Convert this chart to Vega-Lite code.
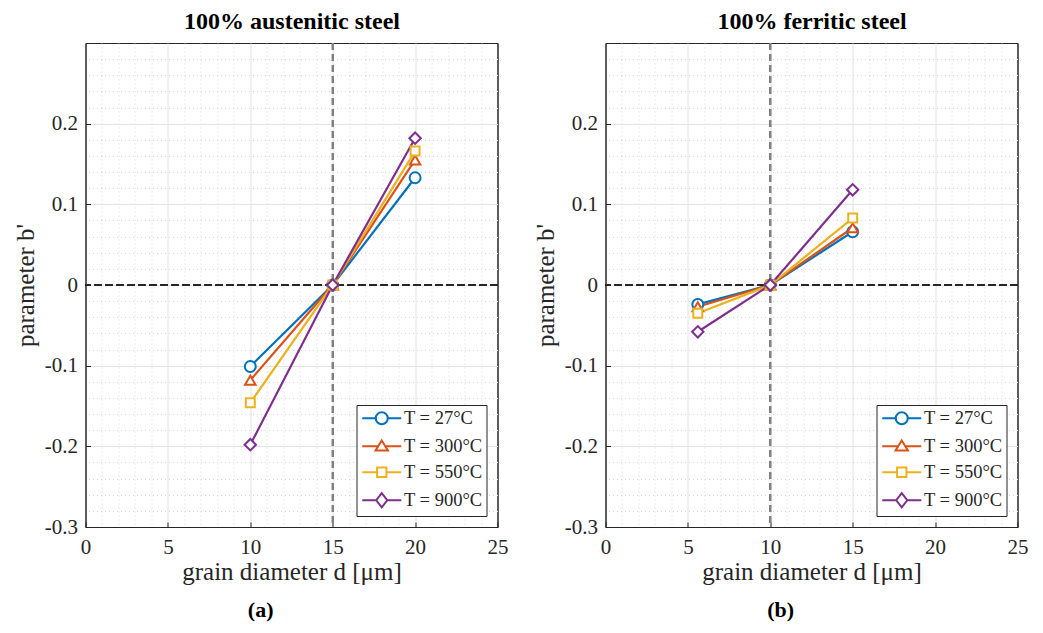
{
  "$schema": "https://vega.github.io/schema/vega-lite/v6.json",
  "padding": {"left": 12.5, "top": 8, "right": 5, "bottom": 5},
  "config": {
    "font": "Liberation Serif",
    "view": {"stroke": "#262626", "strokeWidth": 1},
    "axis": {"labelFont": "Liberation Serif", "titleFont": "Liberation Serif"},
    "legend": {"labelFont": "Liberation Serif"}
  },
  "datasets": {
    "a": [
      {"d": 10, "b": -0.101, "T": "T = 27°C"},
      {"d": 15, "b": 0, "T": "T = 27°C"},
      {"d": 20, "b": 0.133, "T": "T = 27°C"},
      {"d": 10, "b": -0.118, "T": "T = 300°C"},
      {"d": 15, "b": 0, "T": "T = 300°C"},
      {"d": 20, "b": 0.155, "T": "T = 300°C"},
      {"d": 10, "b": -0.146, "T": "T = 550°C"},
      {"d": 15, "b": 0, "T": "T = 550°C"},
      {"d": 20, "b": 0.166, "T": "T = 550°C"},
      {"d": 10, "b": -0.198, "T": "T = 900°C"},
      {"d": 15, "b": 0, "T": "T = 900°C"},
      {"d": 20, "b": 0.182, "T": "T = 900°C"}
    ],
    "b": [
      {"d": 5.6, "b": -0.024, "T": "T = 27°C"},
      {"d": 10, "b": 0, "T": "T = 27°C"},
      {"d": 15, "b": 0.066, "T": "T = 27°C"},
      {"d": 5.6, "b": -0.027, "T": "T = 300°C"},
      {"d": 10, "b": 0, "T": "T = 300°C"},
      {"d": 15, "b": 0.071, "T": "T = 300°C"},
      {"d": 5.6, "b": -0.035, "T": "T = 550°C"},
      {"d": 10, "b": 0, "T": "T = 550°C"},
      {"d": 15, "b": 0.083, "T": "T = 550°C"},
      {"d": 5.6, "b": -0.058, "T": "T = 900°C"},
      {"d": 10, "b": 0, "T": "T = 900°C"},
      {"d": 15, "b": 0.118, "T": "T = 900°C"}
    ]
  },
  "spacing": 24,
  "resolve": {
    "scale": {"stroke": "independent", "shape": "independent"},
    "legend": {"stroke": "independent", "shape": "independent"}
  },
  "hconcat": [
    {
      "width": 412,
      "height": 484,
      "title": {"text": "(a)", "orient": "bottom", "anchor": "middle", "frame": "bounds", "fontSize": 22, "fontWeight": "bold", "color": "#000000", "offset": 16, "font": "Liberation Serif"},
      "data": {"name": "a"},
      "layer": [
        {
          "mark": {"type": "point", "filled": true, "fill": "white", "size": 169, "strokeWidth": 2, "opacity": 0},
          "encoding": {
            "x": {"field": "d", "type": "quantitative", "axis": null, "scale": {"domain": [0, 25], "nice": false}},
            "y": {"field": "b", "type": "quantitative", "axis": null, "scale": {"domain": [-0.3, 0.3], "nice": false}},
            "stroke": {"field": "T", "type": "nominal",
              "scale": {"domain": ["T = 27°C", "T = 300°C", "T = 550°C", "T = 900°C"], "range": ["#0072BD", "#D95319", "#EDB120", "#7E2F8E"]},
              "legend": {"title": null, "orient": "bottom-right", "offset": 11, "padding": 4, "strokeColor": "#262626", "fillColor": "white", "labelFont": "Liberation Serif", "labelFontSize": 18.5, "labelColor": "#262626", "symbolStrokeWidth": 2, "symbolFillColor": "white", "symbolOpacity": 1, "symbolSize": 169, "symbolOffset": 12, "labelOffset": 13, "rowPadding": 7}},
            "shape": {"field": "T", "type": "nominal",
              "scale": {"domain": ["T = 27°C", "T = 300°C", "T = 550°C", "T = 900°C"],
                "range": [
                  "M-3,0L-0.92,0M0.92,0L3,0M-0.92,0A0.92,0.92,0,1,0,0.92,0A0.92,0.92,0,1,0,-0.92,0Z",
                  "M-3,0L-0.55,0M0.55,0L3,0M0,-0.9L0.95,0.65L-0.95,0.65Z",
                  "M-3,0L-0.72,0M0.72,0L3,0M-0.72,-0.72L0.72,-0.72L0.72,0.72L-0.72,0.72Z",
                  "M-3,0L-0.85,0M0.85,0L3,0M0,-1.1L0.85,0L0,1.1L-0.85,0Z"
                ]},
              "legend": {"title": null, "orient": "bottom-right", "offset": 11, "padding": 4, "strokeColor": "#262626", "fillColor": "white", "labelFont": "Liberation Serif", "labelFontSize": 18.5, "labelColor": "#262626", "symbolStrokeWidth": 2, "symbolFillColor": "white", "symbolOpacity": 1, "symbolSize": 169, "symbolOffset": 12, "labelOffset": 13, "rowPadding": 7}}
          }
        },
        {
          "mark": {"type": "rule", "color": "#808080", "strokeDash": [7, 4], "strokeWidth": 1.5},
          "encoding": {
            "x": {"datum": 15, "type": "quantitative",
              "axis": {"orient": "top", "values": [1,2,3,4,6,7,8,9,11,12,13,14,16,17,18,19,21,22,23,24], "grid": true, "gridColor": "#d6d6d6", "gridDash": [1, 3], "gridWidth": 1, "labels": false, "ticks": false, "domain": false, "title": "100% austenitic steel", "titleFontSize": 24, "titleFontWeight": "bold", "titleColor": "#000000", "titlePadding": 10}}
          }
        },
        {
          "mark": {"type": "rule", "color": "#262626", "strokeDash": [7, 4], "strokeWidth": 1.2},
          "encoding": {
            "y": {"datum": 0, "type": "quantitative",
              "axis": {"orient": "right", "values": [-0.28,-0.26,-0.24,-0.22,-0.18,-0.16,-0.14,-0.12,-0.08,-0.06,-0.04,-0.02,0.02,0.04,0.06,0.08,0.12,0.14,0.16,0.18,0.22,0.24,0.26,0.28], "grid": true, "gridColor": "#d6d6d6", "gridDash": [1, 3], "gridWidth": 1, "labels": false, "ticks": false, "domain": false, "title": null}}
          }
        },
        {
          "mark": {"type": "line", "strokeWidth": 2.2},
          "encoding": {
            "x": {"field": "d", "type": "quantitative",
              "axis": {"orient": "bottom", "values": [0, 5, 10, 15, 20, 25], "grid": true, "gridColor": {"condition": {"test": "datum.value == 0 || datum.value == 25", "value": "#262626"}, "value": "#e2e2e2"}, "ticks": true, "tickSize": -5, "tickColor": "#262626", "domain": false, "labelFlush": false, "labelFontSize": 21, "labelColor": "#262626", "labelPadding": 14, "title": "grain diameter d [μm]", "titleFontSize": 25, "titleFontWeight": "normal", "titleColor": "#262626", "titlePadding": 2}},
            "y": {"field": "b", "type": "quantitative",
              "axis": {"orient": "left", "values": [-0.3, -0.2, -0.1, 0, 0.1, 0.2], "labelExpr": "'' + datum.value", "grid": true, "gridColor": {"condition": {"test": "datum.value == -0.3", "value": "#262626"}, "value": "#e2e2e2"}, "ticks": true, "tickSize": -5, "tickColor": "#262626", "domain": false, "labelFontSize": 21, "labelColor": "#262626", "labelPadding": 13, "title": "parameter b'", "titleFontSize": 25, "titleFontWeight": "normal", "titleColor": "#262626", "titlePadding": 6}},
            "stroke": {"field": "T", "type": "nominal"}
          }
        },
        {
          "transform": [{"filter": {"field": "T", "equal": "T = 27°C"}}],
          "mark": {"type": "point", "shape": "circle", "filled": true, "fill": "white", "opacity": 1, "size": 120, "strokeWidth": 2},
          "encoding": {
            "x": {"field": "d", "type": "quantitative", "axis": null},
            "y": {"field": "b", "type": "quantitative", "axis": null},
            "stroke": {"field": "T", "type": "nominal"}
          }
        },
        {
          "transform": [{"filter": {"field": "T", "equal": "T = 300°C"}}],
          "mark": {"type": "point", "shape": "triangle-up", "filled": true, "fill": "white", "opacity": 1, "size": 110, "strokeWidth": 2},
          "encoding": {
            "x": {"field": "d", "type": "quantitative", "axis": null},
            "y": {"field": "b", "type": "quantitative", "axis": null},
            "stroke": {"field": "T", "type": "nominal"}
          }
        },
        {
          "transform": [{"filter": {"field": "T", "equal": "T = 550°C"}}],
          "mark": {"type": "point", "shape": "square", "filled": true, "fill": "white", "opacity": 1, "size": 80, "strokeWidth": 2},
          "encoding": {
            "x": {"field": "d", "type": "quantitative", "axis": null},
            "y": {"field": "b", "type": "quantitative", "axis": null},
            "stroke": {"field": "T", "type": "nominal"}
          }
        },
        {
          "transform": [{"filter": {"field": "T", "equal": "T = 900°C"}}],
          "mark": {"type": "point", "shape": "diamond", "filled": true, "fill": "white", "opacity": 1, "size": 130, "strokeWidth": 2},
          "encoding": {
            "x": {"field": "d", "type": "quantitative", "axis": null},
            "y": {"field": "b", "type": "quantitative", "axis": null},
            "stroke": {"field": "T", "type": "nominal"}
          }
        }
      ]
    },
    {
      "width": 412,
      "height": 484,
      "title": {"text": "(b)", "orient": "bottom", "anchor": "middle", "frame": "bounds", "fontSize": 22, "fontWeight": "bold", "color": "#000000", "offset": 16, "font": "Liberation Serif"},
      "data": {"name": "b"},
      "layer": [
        {
          "mark": {"type": "point", "filled": true, "fill": "white", "size": 169, "strokeWidth": 2, "opacity": 0},
          "encoding": {
            "x": {"field": "d", "type": "quantitative", "axis": null, "scale": {"domain": [0, 25], "nice": false}},
            "y": {"field": "b", "type": "quantitative", "axis": null, "scale": {"domain": [-0.3, 0.3], "nice": false}},
            "stroke": {"field": "T", "type": "nominal",
              "scale": {"domain": ["T = 27°C", "T = 300°C", "T = 550°C", "T = 900°C"], "range": ["#0072BD", "#D95319", "#EDB120", "#7E2F8E"]},
              "legend": {"title": null, "orient": "bottom-right", "offset": 11, "padding": 4, "strokeColor": "#262626", "fillColor": "white", "labelFont": "Liberation Serif", "labelFontSize": 18.5, "labelColor": "#262626", "symbolStrokeWidth": 2, "symbolFillColor": "white", "symbolOpacity": 1, "symbolSize": 169, "symbolOffset": 12, "labelOffset": 13, "rowPadding": 7}},
            "shape": {"field": "T", "type": "nominal",
              "scale": {"domain": ["T = 27°C", "T = 300°C", "T = 550°C", "T = 900°C"],
                "range": [
                  "M-3,0L-0.92,0M0.92,0L3,0M-0.92,0A0.92,0.92,0,1,0,0.92,0A0.92,0.92,0,1,0,-0.92,0Z",
                  "M-3,0L-0.55,0M0.55,0L3,0M0,-0.9L0.95,0.65L-0.95,0.65Z",
                  "M-3,0L-0.72,0M0.72,0L3,0M-0.72,-0.72L0.72,-0.72L0.72,0.72L-0.72,0.72Z",
                  "M-3,0L-0.85,0M0.85,0L3,0M0,-1.1L0.85,0L0,1.1L-0.85,0Z"
                ]},
              "legend": {"title": null, "orient": "bottom-right", "offset": 11, "padding": 4, "strokeColor": "#262626", "fillColor": "white", "labelFont": "Liberation Serif", "labelFontSize": 18.5, "labelColor": "#262626", "symbolStrokeWidth": 2, "symbolFillColor": "white", "symbolOpacity": 1, "symbolSize": 169, "symbolOffset": 12, "labelOffset": 13, "rowPadding": 7}}
          }
        },
        {
          "mark": {"type": "rule", "color": "#808080", "strokeDash": [7, 4], "strokeWidth": 1.5},
          "encoding": {
            "x": {"datum": 10, "type": "quantitative",
              "axis": {"orient": "top", "values": [1,2,3,4,6,7,8,9,11,12,13,14,16,17,18,19,21,22,23,24], "grid": true, "gridColor": "#d6d6d6", "gridDash": [1, 3], "gridWidth": 1, "labels": false, "ticks": false, "domain": false, "title": "100% ferritic steel", "titleFontSize": 24, "titleFontWeight": "bold", "titleColor": "#000000", "titlePadding": 10}}
          }
        },
        {
          "mark": {"type": "rule", "color": "#262626", "strokeDash": [7, 4], "strokeWidth": 1.2},
          "encoding": {
            "y": {"datum": 0, "type": "quantitative",
              "axis": {"orient": "right", "values": [-0.28,-0.26,-0.24,-0.22,-0.18,-0.16,-0.14,-0.12,-0.08,-0.06,-0.04,-0.02,0.02,0.04,0.06,0.08,0.12,0.14,0.16,0.18,0.22,0.24,0.26,0.28], "grid": true, "gridColor": "#d6d6d6", "gridDash": [1, 3], "gridWidth": 1, "labels": false, "ticks": false, "domain": false, "title": null}}
          }
        },
        {
          "mark": {"type": "line", "strokeWidth": 2.2},
          "encoding": {
            "x": {"field": "d", "type": "quantitative",
              "axis": {"orient": "bottom", "values": [0, 5, 10, 15, 20, 25], "grid": true, "gridColor": {"condition": {"test": "datum.value == 0 || datum.value == 25", "value": "#262626"}, "value": "#e2e2e2"}, "ticks": true, "tickSize": -5, "tickColor": "#262626", "domain": false, "labelFlush": false, "labelFontSize": 21, "labelColor": "#262626", "labelPadding": 14, "title": "grain diameter d [μm]", "titleFontSize": 25, "titleFontWeight": "normal", "titleColor": "#262626", "titlePadding": 2}},
            "y": {"field": "b", "type": "quantitative",
              "axis": {"orient": "left", "values": [-0.3, -0.2, -0.1, 0, 0.1, 0.2], "labelExpr": "'' + datum.value", "grid": true, "gridColor": {"condition": {"test": "datum.value == -0.3", "value": "#262626"}, "value": "#e2e2e2"}, "ticks": true, "tickSize": -5, "tickColor": "#262626", "domain": false, "labelFontSize": 21, "labelColor": "#262626", "labelPadding": 13, "title": "parameter b'", "titleFontSize": 25, "titleFontWeight": "normal", "titleColor": "#262626", "titlePadding": 6}},
            "stroke": {"field": "T", "type": "nominal"}
          }
        },
        {
          "transform": [{"filter": {"field": "T", "equal": "T = 27°C"}}],
          "mark": {"type": "point", "shape": "circle", "filled": true, "fill": "white", "opacity": 1, "size": 120, "strokeWidth": 2},
          "encoding": {
            "x": {"field": "d", "type": "quantitative", "axis": null},
            "y": {"field": "b", "type": "quantitative", "axis": null},
            "stroke": {"field": "T", "type": "nominal"}
          }
        },
        {
          "transform": [{"filter": {"field": "T", "equal": "T = 300°C"}}],
          "mark": {"type": "point", "shape": "triangle-up", "filled": true, "fill": "white", "opacity": 1, "size": 110, "strokeWidth": 2},
          "encoding": {
            "x": {"field": "d", "type": "quantitative", "axis": null},
            "y": {"field": "b", "type": "quantitative", "axis": null},
            "stroke": {"field": "T", "type": "nominal"}
          }
        },
        {
          "transform": [{"filter": {"field": "T", "equal": "T = 550°C"}}],
          "mark": {"type": "point", "shape": "square", "filled": true, "fill": "white", "opacity": 1, "size": 80, "strokeWidth": 2},
          "encoding": {
            "x": {"field": "d", "type": "quantitative", "axis": null},
            "y": {"field": "b", "type": "quantitative", "axis": null},
            "stroke": {"field": "T", "type": "nominal"}
          }
        },
        {
          "transform": [{"filter": {"field": "T", "equal": "T = 900°C"}}],
          "mark": {"type": "point", "shape": "diamond", "filled": true, "fill": "white", "opacity": 1, "size": 130, "strokeWidth": 2},
          "encoding": {
            "x": {"field": "d", "type": "quantitative", "axis": null},
            "y": {"field": "b", "type": "quantitative", "axis": null},
            "stroke": {"field": "T", "type": "nominal"}
          }
        }
      ]
    }
  ]
}
